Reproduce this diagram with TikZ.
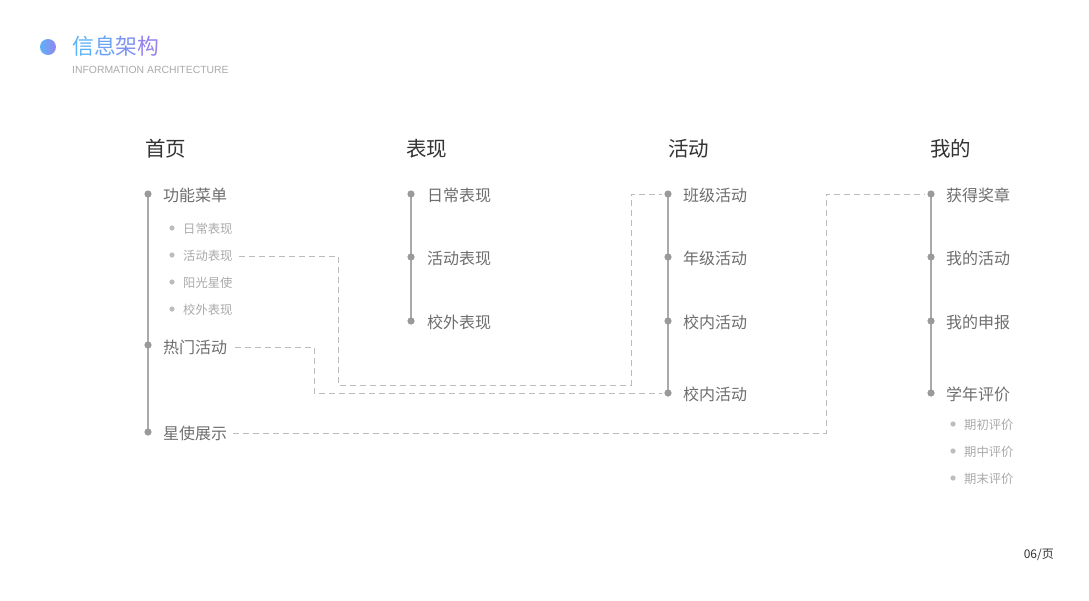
\documentclass[tikz,border=0pt]{standalone}
\usepackage{fontspec}
\setmainfont{Noto Sans CJK SC}
\newfontfamily\latinfont{Liberation Sans}
\definecolor{hdc}{HTML}{333333}
\definecolor{labc}{HTML}{6E6E6E}
\definecolor{subc}{HTML}{AAAAAA}
\definecolor{dotc}{HTML}{9A9A9A}
\definecolor{subdotc}{HTML}{BDBDBD}
\definecolor{linec}{HTML}{AAAAAA}
\definecolor{dashc}{HTML}{BBBBBB}
\definecolor{ta}{HTML}{5DB2F6}
\definecolor{tb}{HTML}{6CA4F4}
\definecolor{tc}{HTML}{7E94F2}
\definecolor{td}{HTML}{9484F0}
\begin{document}
\begin{tikzpicture}[x=1pt,y=-1pt,
  hd/.style={anchor=west,inner sep=0pt,text=hdc,font=\fontsize{20.5}{24}\selectfont},
  lab/.style={anchor=west,inner sep=0pt,text=labc,font=\fontsize{16}{18}\selectfont},
  sublab/.style={anchor=west,inner sep=0pt,text=subc,font=\fontsize{12.3}{14}\selectfont},
  vline/.style={draw=linec,line width=1.2pt},
  maindot/.style={fill=dotc},
  subdot/.style={fill=subdotc},
  conn/.style={draw=dashc,line width=0.9pt,dash pattern=on 6pt off 4pt}]
\useasboundingbox[fill=white] (0,0) rectangle (1089,600);

% title
\shade[left color=ta,right color=td] (48,47) circle (8);
\node[anchor=west,inner sep=0pt,font=\fontsize{21.8}{24}\selectfont] (title) at (72,46.5)
  {\textcolor{ta}{信}\textcolor{tb}{息}\textcolor{tc}{架}\textcolor{td}{构}};
\node[anchor=west,inner sep=0pt,text=subc,font=\latinfont\fontsize{10.4}{12}\selectfont] (subtitle) at (72,70) {INFORMATION ARCHITECTURE};

% headers
\node[hd] (h1) at (145,149) {首页};
\node[hd] (h2) at (406,149) {表现};
\node[hd] (h3) at (668,149) {活动};
\node[hd] (h4) at (930,149) {我的};

% column 1
\coordinate (a1) at (148,194);
\coordinate (a2) at (148,345);
\coordinate (a3) at (148,432);
\draw[vline] (a1) -- (a3);
\foreach \p in {a1,a2,a3} \fill[maindot] (\p) circle (3.6);
\node[lab] (l1) at (163,195) {功能菜单};
\node[lab] (l2) at (163,347) {热门活动};
\node[lab] (l3) at (163,433) {星使展示};
\coordinate (sd1) at (172,228);
\coordinate (sd2) at (172,255);
\coordinate (sd3) at (172,282);
\coordinate (sd4) at (172,309);
\foreach \p in {sd1,sd2,sd3,sd4} \fill[subdot] (\p) circle (2.6);
\node[sublab] (s1) at (183,229) {日常表现};
\node[sublab] (s2) at (183,256) {活动表现};
\node[sublab] (s3) at (183,283) {阳光星使};
\node[sublab] (s4) at (183,310) {校外表现};

% column 2
\coordinate (b1) at (411,194);
\coordinate (b2) at (411,257);
\coordinate (b3) at (411,321);
\draw[vline] (b1) -- (b3);
\foreach \p in {b1,b2,b3} \fill[maindot] (\p) circle (3.6);
\node[lab] (m1) at (427,195) {日常表现};
\node[lab] (m2) at (427,258) {活动表现};
\node[lab] (m3) at (427,322) {校外表现};

% column 3
\coordinate (c1) at (668,194);
\coordinate (c2) at (668,257);
\coordinate (c3) at (668,321);
\coordinate (c4) at (668,393);
\draw[vline] (c1) -- (c4);
\foreach \p in {c1,c2,c3,c4} \fill[maindot] (\p) circle (3.6);
\node[lab] (n1) at (683,195) {班级活动};
\node[lab] (n2) at (683,258) {年级活动};
\node[lab] (n3) at (683,322) {校内活动};
\node[lab] (n4) at (683,394) {校内活动};

% column 4
\coordinate (d1) at (931,194);
\coordinate (d2) at (931,257);
\coordinate (d3) at (931,321);
\coordinate (d4) at (931,393);
\draw[vline] (d1) -- (d4);
\foreach \p in {d1,d2,d3,d4} \fill[maindot] (\p) circle (3.6);
\node[lab] (o1) at (946,195) {获得奖章};
\node[lab] (o2) at (946,258) {我的活动};
\node[lab] (o3) at (946,322) {我的申报};
\node[lab] (o4) at (946,394) {学年评价};
\coordinate (td1) at (953,424);
\coordinate (td2) at (953,451);
\coordinate (td3) at (953,478);
\foreach \p in {td1,td2,td3} \fill[subdot] (\p) circle (2.6);
\node[sublab] (t1) at (964,425) {期初评价};
\node[sublab] (t2) at (964,452) {期中评价};
\node[sublab] (t3) at (964,479) {期末评价};

% dashed connectors
\coordinate (k1) at (338,385);
\coordinate (k2) at (631,194);
\coordinate (k3) at (314,393);
\coordinate (k4) at (826,194);
\draw[conn] ([xshift=6pt]s2.east) -| (k1) -| (k2) -- ([xshift=-6pt]c1);
\draw[conn] ([xshift=8pt]l2.east) -| (k3) -- ([xshift=-6pt]c4);
\draw[conn] ([xshift=6pt]l3.east) -| (k4) -- ([xshift=-6pt]d1);

% page number
\node[anchor=east,inner sep=0pt,text=hdc,font=\fontsize{12}{14}\selectfont] (page) at (1054,555) {06/页};
\end{tikzpicture}
\end{document}
